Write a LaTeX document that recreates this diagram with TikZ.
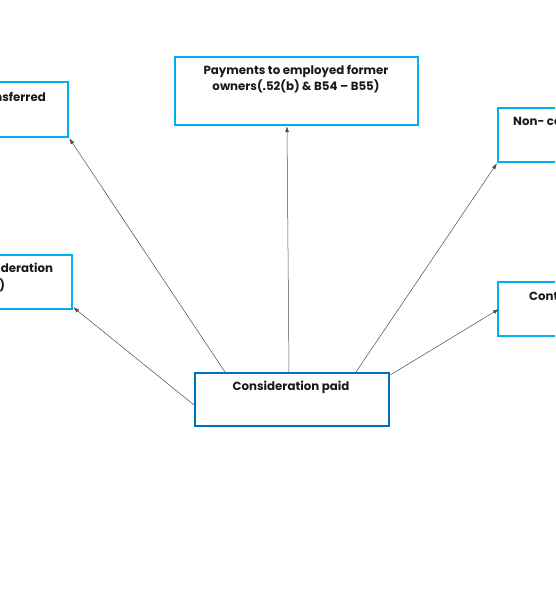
\documentclass[tikz,border=0pt]{standalone}
\usepackage{fontspec}
\setmainfont{Poppins}
\usetikzlibrary{calc,arrows.meta}
\definecolor{lightbl}{HTML}{00B0F0}
\definecolor{darkbl}{HTML}{0070C0}
\tikzset{
  box/.style={draw=lightbl, line width=2.2pt, rectangle, inner sep=0pt, anchor=north west},
  mainbox/.style={draw=darkbl, line width=2.2pt, rectangle, inner sep=0pt, anchor=north west},
  lbl/.style={font=\bfseries\fontsize{11.8}{16.5}\selectfont, align=center, inner sep=0pt, text=black!90},
  conn/.style={draw=black!70, line width=0.5pt, -{Latex[length=6pt,width=4pt]}}
}
\begin{document}
\begin{tikzpicture}[x=1pt,y=-1pt]
\useasboundingbox (0,0) rectangle (555,592);
\begin{scope}
\clip (0,0) rectangle (555,592);
% boxes
\node[box, minimum width=167pt, minimum height=55pt] (tl) at (-100,81) {};
\node[box, minimum width=243pt, minimum height=68pt] (tc) at (174,56) {};
\node[box, minimum width=160pt, minimum height=54pt] (tr) at (497,107) {};
\node[box, minimum width=171pt, minimum height=54pt] (ml) at (-100,254) {};
\node[box, minimum width=160pt, minimum height=54pt] (mr) at (497,281) {};
\node[mainbox, minimum width=194pt, minimum height=53pt] (cp) at (194,372) {};
% texts
\node[lbl, anchor=north east] (tlt) at (46,92) {Consideration transferred};
\node[lbl, anchor=north] (tct) at (296,65) {Payments to employed former\\owners(.52(b) \& B54 -- B55)};
\node[lbl, anchor=north west] (trt) at (513,116) {Non- controlling interest};
\node[lbl, anchor=north] (mlt) at (-25,263) {Contingent consideration\\\makebox[60pt][r]{(.39 -- .40)}};
\node[lbl, anchor=north west] (mrt) at (529,291) {Contingent consideration};
\node[lbl, anchor=north] (cpt) at (291,381) {Consideration paid};
\end{scope}
% connectors
\draw[conn] ($(cp.north west)+(31,0)$) -- (tl.south east);
\draw[conn] ($(cp.north west)+(95,0)$) -- ($(tc.south west)+(113,0)$);
\draw[conn] ($(cp.north west)+(162,0)$) -- (tr.south west);
\draw[conn] ($(cp.north west)+(0,33)$) -- ($(ml.south east)+(0,-3)$);
\draw[conn] ($(cp.north east)+(0,3)$) -- ($(mr.north west)+(2,28)$);
\end{tikzpicture}
\end{document}
